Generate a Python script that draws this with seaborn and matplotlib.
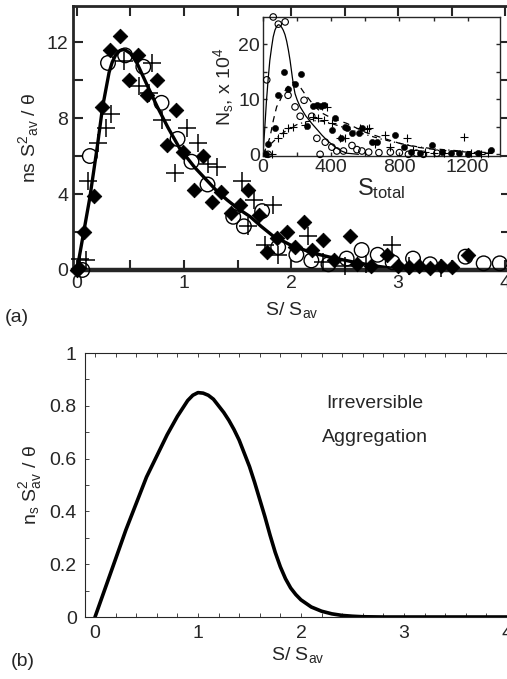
import numpy as np
import pandas as pd
import seaborn as sns
import matplotlib.pyplot as plt
from matplotlib.ticker import MultipleLocator

# ---- panel (a), main plot: scaled size distribution ----
dia_x = [0.0, 0.02, 0.07, 0.16, 0.23, 0.31, 0.40, 0.49, 0.57, 0.65, 0.75, 0.84, 0.93, 0.99,
         1.09, 1.18, 1.26, 1.35, 1.44, 1.52, 1.60, 1.70, 1.78, 1.87, 1.96, 2.04, 2.12, 2.20,
         2.30, 2.40, 2.55, 2.62, 2.75, 2.90, 3.00, 3.10, 3.20, 3.30, 3.40, 3.50, 3.65]
dia_y = [0.0, 0.1, 2.0, 3.9, 8.6, 11.6, 12.3, 10.0, 11.3, 9.2, 10.0, 6.6, 8.4, 6.2,
         4.2, 6.0, 3.6, 4.1, 3.0, 3.4, 4.2, 2.9, 0.95, 1.7, 2.0, 1.2, 2.5, 1.05,
         1.6, 0.5, 1.8, 0.3, 0.2, 0.8, 0.2, 0.15, 0.2, 0.1, 0.2, 0.15, 0.8]

circ_x = [0.05, 0.12, 0.29, 0.45, 0.62, 0.79, 0.94, 1.07, 1.22, 1.46, 1.56, 1.73, 1.88,
          2.05, 2.19, 2.35, 2.52, 2.66, 2.81, 2.95, 3.14, 3.30, 3.63, 3.80, 3.95]
circ_y = [0.0, 6.0, 10.9, 11.3, 10.7, 8.8, 6.9, 5.7, 4.5, 2.8, 2.3, 3.1, 1.2,
          0.8, 0.5, 0.3, 0.6, 1.05, 0.8, 0.4, 0.6, 0.3, 0.7, 0.35, 0.35]

plus_x = [0.03, 0.08, 0.10, 0.20, 0.27, 0.32, 0.44, 0.58, 0.67, 0.70, 0.79, 0.92, 1.03,
          1.13, 1.22, 1.31, 1.54, 1.60, 1.65, 1.76, 1.83, 1.88, 2.16, 2.30, 2.50, 2.70,
          2.94, 3.10, 3.40]
plus_y = [0.6, 0.5, 4.7, 6.7, 7.5, 8.2, 11.0, 9.7, 9.3, 10.9, 7.9, 5.1, 7.5,
          6.7, 5.6, 5.4, 4.7, 2.3, 3.7, 1.3, 3.4, 0.8, 1.8, 0.4, 0.2, 0.3,
          1.3, 0.2, 0.1]

fit_x = [0.0, 0.06, 0.12, 0.19, 0.24, 0.30, 0.33, 0.36, 0.40, 0.43, 0.46, 0.50, 0.56, 0.65,
         0.75, 0.85, 0.96, 1.10, 1.20, 1.30, 1.40, 1.50, 1.62, 1.72, 1.83, 2.00, 2.20, 2.36,
         2.60, 2.80, 3.00]
fit_y = [0.0, 1.9, 3.8, 6.5, 8.6, 10.4, 10.95, 11.3, 11.55, 11.6, 11.55, 11.4, 10.9, 9.8,
         8.6, 7.5, 6.4, 5.4, 4.8, 4.2, 3.7, 3.25, 2.8, 2.3, 1.8, 1.3, 0.9, 0.68,
         0.4, 0.2, 0.05]

# ---- panel (a), inset: raw counts vs S_total ----
in_circ_s = [22, 30, 60, 90, 130, 147, 188, 218, 241, 286, 316, 335, 365, 404, 433, 472,
             522, 551, 580, 620, 680, 747, 800, 853, 900, 941, 1020]
in_circ_n = [13.5, 0.0, 24.9, 23.6, 24.0, 10.7, 8.6, 6.9, 9.8, 6.9, 2.9, 0.0, 2.2, 1.3, 0.6, 0.6,
             1.6, 0.85, 0.6, 0.4, 0.3, 0.4, 0.3, 0.0, 0.2, 0.0, 0.2]

in_fill_s = [15, 27, 70, 90, 122, 149, 188, 223, 257, 295, 316, 340, 355, 404, 424, 459,
             482, 492, 522, 561, 580, 639, 669, 776, 825, 870, 920, 992, 1051, 1100, 1150,
             1200, 1260, 1335]
in_fill_n = [0.0, 1.9, 4.8, 10.7, 15.0, 11.9, 12.8, 14.5, 5.1, 8.7, 8.9, 8.7, 8.9, 4.4, 6.6, 2.9,
             5.0, 4.7, 3.8, 3.8, 4.7, 2.2, 2.2, 3.5, 1.3, 0.5, 0.3, 1.6, 0.4, 0.2, 0.3,
             0.1, 0.2, 0.7]

in_plus_s = [51, 90, 119, 149, 178, 247, 296, 325, 345, 355, 375, 404, 453, 482, 571, 610,
             620, 659, 718, 747, 845, 880, 950, 1000, 1060, 1179, 1220, 1280, 1320]
in_plus_n = [0.1, 2.9, 3.9, 4.7, 5.0, 5.3, 6.8, 6.5, 8.7, 6.2, 8.6, 5.6, 3.0, 2.9, 4.7, 4.5,
             4.7, 1.9, 3.5, 1.3, 3.0, 0.8, 0.5, 0.3, 0.2, 3.1, 0.2, 0.1, 0.2]

solid_s = [0, 10, 20, 30, 40, 51, 60, 70, 80, 90, 100, 110, 119, 129, 139, 149, 159, 172,
           180, 188, 200, 218, 250, 286, 320, 345, 380, 424, 460, 492, 560]
solid_n = [0.0, 4.5, 9.5, 13.5, 17.0, 19.5, 21.3, 22.5, 23.2, 23.5, 23.4, 23.0, 22.5, 21.7,
           20.5, 18.9, 17.0, 14.0, 12.3, 11.0, 9.9, 8.6, 7.0, 5.6, 4.4, 3.5, 2.4, 1.3,
           0.6, 0.2, 0.0]

dash_s = [0, 20, 41, 61, 80, 100, 120, 139, 160, 178, 198, 218, 240, 265, 300, 345, 400,
          492, 600, 688, 800, 900, 1000, 1100, 1200, 1330]
dash_n = [0.0, 1.3, 3.1, 6.2, 8.6, 9.8, 11.1, 12.0, 12.8, 13.1, 12.9, 12.2, 11.2, 10.2, 8.8,
          7.5, 6.6, 5.6, 4.0, 3.1, 2.0, 1.3, 0.9, 0.6, 0.4, 0.2]

dot_s = [0, 50, 100, 150, 200, 250, 300, 350, 400, 500, 600, 700, 800, 900, 1000, 1200, 1330]
dot_n = [0.0, 2.0, 3.5, 4.6, 5.4, 5.9, 6.1, 6.0, 5.6, 4.6, 3.6, 2.7, 2.0, 1.4, 1.0, 0.5, 0.3]

# ---- panel (b): irreversible aggregation ----
irr_x = [0.0, 0.1, 0.2, 0.3, 0.4, 0.5, 0.6, 0.7, 0.8, 0.85, 0.9, 0.95, 1.0, 1.05, 1.1,
         1.15, 1.2, 1.25, 1.3, 1.35, 1.4, 1.45, 1.5, 1.55, 1.6, 1.65, 1.7, 1.75, 1.8, 1.85,
         1.9, 1.95, 2.0, 2.1, 2.2, 2.3, 2.4, 2.5, 2.6, 2.8, 3.0, 3.5, 4.1]
irr_y = [0.0, 0.11, 0.22, 0.33, 0.43, 0.53, 0.61, 0.69, 0.76, 0.79, 0.82, 0.84, 0.85, 0.848,
         0.84, 0.825, 0.80, 0.775, 0.745, 0.71, 0.67, 0.62, 0.57, 0.51, 0.445, 0.38, 0.31,
         0.245, 0.19, 0.145, 0.11, 0.085, 0.065, 0.038, 0.022, 0.012, 0.006, 0.003, 0.001,
         0.0, 0.0, 0.0, 0.0]

sns.set_style("ticks")
plt.rcParams['font.family'] = ['Liberation Sans', 'DejaVu Sans']
plt.rcParams['mathtext.fontset'] = 'custom'
plt.rcParams['mathtext.rm'] = 'Liberation Sans'
plt.rcParams['mathtext.it'] = 'Liberation Sans:italic'
plt.rcParams['xtick.direction'] = 'in'
plt.rcParams['ytick.direction'] = 'in'

FS = 14
fig = plt.figure(figsize=(5.07, 6.79), dpi=100)

# ================= panel (a) =================
ax = fig.add_axes([0.144, 0.6024, 0.864, 0.3888])
sns.lineplot(x=fit_x, y=fit_y, ax=ax, color='black', lw=2.4, sort=False, estimator=None)
sns.scatterplot(x=dia_x, y=dia_y, ax=ax, marker='D', s=55, color='black', edgecolor='black',
                clip_on=False, zorder=3)
sns.scatterplot(x=circ_x, y=circ_y, ax=ax, marker='o', s=110, facecolor='none',
                edgecolor='black', linewidth=1.0, clip_on=False, zorder=3)
sns.scatterplot(x=plus_x, y=plus_y, ax=ax, marker='+', s=150, color='black',
                linewidth=1.1, clip_on=False, zorder=3)
ax.set_xlim(-0.037, 4.056)
ax.set_ylim(0, 13.9)
ax.xaxis.set_major_locator(MultipleLocator(1))
ax.xaxis.set_minor_locator(MultipleLocator(0.5))
ax.yaxis.set_major_locator(MultipleLocator(4))
ax.yaxis.set_minor_locator(MultipleLocator(2))
ax.tick_params(which='both', top=True, right=True, labelsize=FS, width=1.5)
ax.tick_params(which='major', length=7)
ax.tick_params(which='minor', length=7)
for side in ['left', 'top', 'right']:
    ax.spines[side].set_linewidth(2.0)
ax.spines['bottom'].set_linewidth(3.2)
ax.set_xlabel(r"S/ S$_{\mathrm{av}}$", fontsize=FS, labelpad=6)
ax.set_ylabel(r"ns S$^{2}{}_{\mathrm{av}}$ / θ", fontsize=FS, labelpad=4)
fig.text(0.01, 1 - 317 / 679, "(a)", fontsize=FS, va='center', ha='left')

# inset
axi = fig.add_axes([0.5187, 0.7703, 0.4675, 0.2047])
sns.lineplot(x=solid_s, y=solid_n, ax=axi, color='black', lw=0.9, sort=False, estimator=None)
sns.lineplot(x=dash_s, y=dash_n, ax=axi, color='black', lw=0.9, sort=False, estimator=None,
             linestyle=(0, (5, 4)))
sns.lineplot(x=dot_s, y=dot_n, ax=axi, color='black', lw=0.9, sort=False, estimator=None,
             linestyle=(0, (4, 3, 1, 3)))
sns.scatterplot(x=in_circ_s, y=in_circ_n, ax=axi, marker='o', s=22, facecolor='none',
                edgecolor='black', linewidth=0.8, clip_on=False, zorder=3)
sns.scatterplot(x=in_fill_s, y=in_fill_n, ax=axi, marker='o', s=20, color='black',
                edgecolor='black', clip_on=False, zorder=3)
sns.scatterplot(x=in_plus_s, y=in_plus_n, ax=axi, marker='+', s=35, color='black',
                linewidth=0.8, clip_on=False, zorder=3)
axi.set_xlim(0, 1390)
axi.set_ylim(-0.3, 24.9)
axi.xaxis.set_major_locator(MultipleLocator(400))
axi.xaxis.set_minor_locator(MultipleLocator(200))
axi.yaxis.set_major_locator(MultipleLocator(10))
axi.yaxis.set_minor_locator(MultipleLocator(5))
axi.tick_params(which='both', top=True, right=True, labelsize=FS, length=3, width=1.0, pad=2)
for sp in axi.spines.values():
    sp.set_linewidth(1.0)
axi.set_xlabel(r"S$_{\mathrm{total}}$", fontsize=17, labelpad=0)
axi.set_ylabel(r"N$_{\mathrm{s}}$, x 10$^{4}$", fontsize=FS, labelpad=2)

# ================= panel (b) =================
axb = fig.add_axes([0.1677, 0.0913, 0.840, 0.3888])
sns.lineplot(x=irr_x, y=irr_y, ax=axb, color='black', lw=2.6, sort=False, estimator=None)
axb.set_xlim(-0.097, 4.039)
axb.set_ylim(0, 1.0)
axb.xaxis.set_major_locator(MultipleLocator(1))
axb.xaxis.set_minor_locator(MultipleLocator(0.2))
axb.yaxis.set_major_locator(MultipleLocator(0.2))
axb.yaxis.set_minor_locator(MultipleLocator(0.1))
axb.set_yticks([0, 0.2, 0.4, 0.6, 0.8, 1.0])
axb.set_yticklabels(["0", "0.2", "0.4", "0.6", "0.8", "1"])
axb.tick_params(which='both', top=True, right=True, labelsize=FS, length=3, width=0.6, pad=6)
for sp in axb.spines.values():
    sp.set_linewidth(0.8)
axb.text(2.72, 0.81, "Irreversible", fontsize=FS, ha='center', va='center')
axb.text(2.72, 0.68, "Aggregation", fontsize=FS, ha='center', va='center')
axb.set_xlabel(r"S/ S$_{\mathrm{av}}$", fontsize=FS, labelpad=2)
axb.set_ylabel(r"n$_{\mathrm{s}}$ S$^{2}_{\mathrm{av}}$ / θ", fontsize=FS, labelpad=4)
fig.text(0.022, 1 - 662 / 679, "(b)", fontsize=FS, va='center', ha='left')

fig.savefig("out.png", dpi=100)
